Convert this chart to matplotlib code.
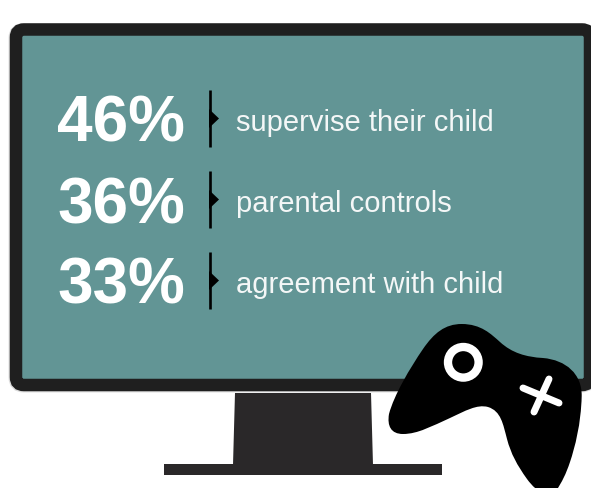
import matplotlib
matplotlib.use("Agg")
import matplotlib.pyplot as plt
from matplotlib.patches import FancyBboxPatch, PathPatch, Polygon, Rectangle, Circle
from matplotlib.path import Path

plt.rcParams['font.family'] = ['Liberation Sans', 'DejaVu Sans']

percentages = ["46%", "36%", "33%"]
labels = ["supervise their child", "parental controls", "agreement with child"]
row_y = [121, 202, 283]

DARK = "#1f1f1f"
STAND = "#2a2829"
SCREEN = "#629595"

# controller outline, pen-down point then cubic segments
PAD_START = (461.7, 325)
PAD_CURVES = [
    ((481, 325), (491, 335), (500, 343)),
    ((512, 354), (526, 358), (543, 359)),
    ((566, 361), (582, 375), (581.7, 397)),
    ((581, 425), (575, 448), (570, 463)),
    ((566, 475), (562, 483), (556, 492)),
    ((548, 498), (538, 495), (527, 480)),
    ((517, 466), (511, 455), (507, 440)),
    ((503, 425), (501, 412), (488, 408)),
    ((477, 405), (465, 412), (450, 419)),
    ((432, 427), (418, 435), (403, 435)),
    ((391, 435), (387, 427), (389, 415)),
    ((394, 396), (410, 369), (423, 350)),
    ((434, 334), (445, 325), (461.7, 325)),
]


def pad_path():
    verts = [PAD_START]
    codes = [Path.MOVETO]
    for c1, c2, end in PAD_CURVES:
        verts += [c1, c2, end]
        codes += [Path.CURVE4] * 3
    return Path(verts, codes)


fig = plt.figure(figsize=(5.91, 4.89), dpi=100)
ax = fig.add_axes([0, 0, 1, 1])
ax.set_xlim(0, 591)
ax.set_ylim(489, 0)
ax.axis("off")

# monitor stand and base
ax.add_patch(Polygon([(235, 394), (371, 394), (373, 466), (233, 466)], closed=True, fc=STAND, ec="none"))
ax.add_patch(Rectangle((164, 465), 278, 11, fc=STAND, ec="none"))

# soft edge round the frame, then the frame and screen
ax.add_patch(FancyBboxPatch((15.5, 31), 574, 355.5, boxstyle="round,pad=0,rounding_size=8",
                            fc="none", ec="#dcdcdc", lw=10))
ax.add_patch(FancyBboxPatch((16, 30.5), 574, 355.5, boxstyle="round,pad=0,rounding_size=8",
                            fc=SCREEN, ec=DARK, lw=9))

for pct, label, y in zip(percentages, labels, row_y):
    ax.text(121, y + 21, pct, color="white", fontsize=46, fontweight="bold", ha="center", va="baseline")
    ax.text(236, y + 2, label, color="#f4f7f7", fontsize=21, ha="left", va="center")
    ax.plot([209.7, 209.7], [y - 30, y + 27], color="black", lw=1.9, solid_capstyle="butt")
    ax.add_patch(Polygon([(209, y - 11), (219, y - 1.5), (209, y + 8)], closed=True, fc="black", ec="none"))

# game controller with its two buttons
ax.add_patch(PathPatch(pad_path(), fc="black", ec="none", zorder=5))
ax.add_patch(Circle((463.3, 363.3), 15.3, fc="none", ec="white", lw=6, zorder=6))
ax.plot([523, 559], [389, 404], color="white", lw=5, solid_capstyle="round", zorder=6)
ax.plot([549, 534], [380, 413], color="white", lw=5, solid_capstyle="round", zorder=6)

fig.savefig("out.png", dpi=100)
